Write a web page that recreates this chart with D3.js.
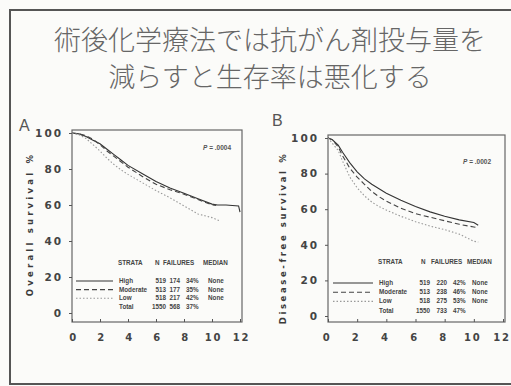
<!DOCTYPE html>
<html>
<head>
<meta charset="utf-8">
<script src="https://cdn.jsdelivr.net/npm/d3@7"></script>
<style>
	body { margin: 0; background: #fbfbf9; }
	svg { display: block; }
	.tick text { font-family: 'DejaVu Sans', sans-serif; font-weight: bold; fill: #444; }
	.tick line { stroke: #555; }
</style>
</head>
<body>
<svg id="main_svg"></svg>
<script>
const WIDTH = 511;
const HEIGHT = 386;

// title lines
const titleLines = ['術後化学療法では抗がん剤投与量を', '減らすと生存率は悪化する'];

const xTicks = [0, 2, 4, 6, 8, 10, 12];
const yTicks = [0, 20, 40, 60, 80, 100];

const strata = ['High', 'Moderate', 'Low', 'Total'];
const legendHeader = ['STRATA', 'N', 'FAILURES', 'MEDIAN'];

// panel A: overall survival
const nA = ['519', '513', '518', '1550'];
const failA = ['174', '177', '217', '568'];
const pctA = ['34%', '35%', '42%', '37%'];
const medA = ['None', 'None', 'None', ''];
const highA = [[0, 100], [0.5, 99.5], [1, 98], [1.5, 96], [2, 94], [2.5, 91], [3, 88], [3.5, 85], [4, 82], [5, 77.5], [6, 73], [7, 69.5], [8, 66.5], [9, 63.5], [10, 60.5], [10.4, 60], [11, 60], [11.9, 59.5], [12, 56]];
const modA = [[0, 100], [0.5, 99.5], [1, 98.5], [1.5, 96.5], [2, 93.5], [2.5, 90], [3, 87], [3.5, 84], [4, 81], [5, 76], [6, 71.5], [7, 68.5], [8, 66], [9, 63], [10, 60], [10.3, 59.8]];
const lowA = [[0, 100], [0.5, 99], [1, 97], [1.5, 93.5], [2, 90], [2.5, 86], [3, 82.5], [3.5, 79.5], [4, 77], [5, 72.5], [6, 68], [7, 64], [8, 59.5], [9, 55], [9.5, 54], [10, 53], [10.6, 51]];

// panel B: disease-free survival
const nB = ['519', '513', '518', '1550'];
const failB = ['220', '238', '275', '733'];
const pctB = ['42%', '46%', '53%', '47%'];
const medB = ['None', 'None', 'None', ''];
const highB = [[0, 100], [0.3, 99], [0.7, 96], [1, 92], [1.5, 86], [2, 81], [2.5, 77], [3, 74], [3.5, 71.5], [4, 69], [5, 65], [6, 61.5], [7, 58.5], [8, 56], [9, 54], [10, 52.5], [10.3, 51]];
const modB = [[0, 100], [0.3, 99], [0.7, 95], [1, 90], [1.5, 83], [2, 78], [2.5, 74], [3, 70], [3.5, 67], [4, 64.5], [5, 60.5], [6, 57.5], [7, 55.5], [8, 53.5], [9, 51.5], [10, 50], [10.3, 49.5]];
const lowB = [[0, 100], [0.3, 97], [0.7, 93], [1, 87], [1.5, 78], [2, 72], [2.5, 67.5], [3, 64], [3.5, 61.5], [4, 59.5], [5, 56], [6, 53], [7, 50.5], [8, 48.5], [9, 46], [10, 42], [10.3, 41.5]];

const LINE_STYLES = [
	{stroke: '#333', dash: null, width: 1.1},
	{stroke: '#444', dash: '5,3', width: 1.1},
	{stroke: '#999', dash: '1.5,2', width: 1.1}
];

const svg = d3.select('#main_svg').attr('width', WIDTH).attr('height', HEIGHT);

// slide frame
svg.append('rect')
	.attr('x', 10).attr('y', 10)
	.attr('width', 530).attr('height', 374)
	.attr('fill', 'none')
	.attr('stroke', '#555')
	.attr('stroke-width', 2);

svg.selectAll('.title')
	.data(titleLines)
	.enter()
	.append('text')
	.attr('class', 'title')
	.attr('x', 270)
	.attr('y', (d, i) => 50 + i * 37)
	.attr('text-anchor', 'middle')
	.attr('font-family', "'Noto Sans CJK JP', sans-serif")
	.attr('font-weight', 300)
	.attr('font-size', '27px')
	.attr('fill', '#666')
	.text(d => d);

const plot_panel = (cfg) => {
	const g = svg.append('g');

	const x = d3.scaleLinear().domain([0, 12]).range([cfg.left, cfg.right]);
	const y = d3.scaleLinear().domain([0, 100]).range([cfg.y0, cfg.y100]);

	// plot box
	g.append('rect')
		.attr('x', cfg.left).attr('y', cfg.boxTop)
		.attr('width', cfg.boxRight - cfg.left)
		.attr('height', cfg.boxBottom - cfg.boxTop)
		.attr('fill', 'none')
		.attr('stroke', '#666')
		.attr('stroke-width', 1.2);

	const yAxis = g.append('g')
		.attr('transform', `translate(${cfg.left},0)`)
		.call(d3.axisLeft(y).tickValues(yTicks).tickSize(3).tickPadding(6));
	yAxis.select('.domain').remove();
	yAxis.selectAll('.tick text')
		.attr('font-size', '10.5px')
		.attr('letter-spacing', '2px');

	const xAxis = g.append('g')
		.attr('transform', `translate(0,${cfg.boxBottom})`)
		.call(d3.axisBottom(x).tickValues(xTicks).tickSize(-3).tickPadding(12));
	xAxis.select('.domain').remove();
	xAxis.selectAll('.tick text')
		.attr('font-size', '10px')
		.attr('letter-spacing', '1.8px')
		.attr('dx', cfg.xLabelDx);

	const line = d3.line()
		.x(d => x(d[0]))
		.y(d => y(d[1]));

	g.selectAll('.curve')
		.data(cfg.curves)
		.enter()
		.append('path')
		.attr('class', 'curve')
		.attr('d', line)
		.attr('fill', 'none')
		.attr('stroke', (d, i) => LINE_STYLES[i].stroke)
		.attr('stroke-width', (d, i) => LINE_STYLES[i].width)
		.attr('stroke-dasharray', (d, i) => LINE_STYLES[i].dash);

	// panel letter
	g.append('text')
		.attr('x', cfg.letterX).attr('y', cfg.letterY)
		.attr('font-family', "'Liberation Sans', sans-serif")
		.attr('font-size', '16px')
		.attr('fill', '#555')
		.text(cfg.letter);

	// rotated y label
	g.append('text')
		.attr('transform', `translate(${cfg.labelX}, ${cfg.labelY}) rotate(-90)`)
		.attr('text-anchor', 'middle')
		.attr('font-family', "'DejaVu Sans', sans-serif")
		.attr('font-weight', 'bold')
		.attr('font-size', '8.5px')
		.attr('letter-spacing', cfg.labelSpacing)
		.attr('fill', '#3a3a3a')
		.text(cfg.label);

	// p value
	const p = g.append('text')
		.attr('x', cfg.pX).attr('y', cfg.pY)
		.attr('font-family', "'Liberation Sans', sans-serif")
		.attr('font-weight', 'bold')
		.attr('font-size', '6.5px')
		.attr('fill', '#555');
	p.append('tspan').attr('font-style', 'italic').text('P');
	p.append('tspan').text(' = ' + cfg.p);

	// legend
	const lg = g.append('g')
		.attr('font-family', "'Liberation Sans', sans-serif")
		.attr('font-weight', 'bold')
		.attr('font-size', '6.3px')
		.attr('fill', '#444');

	lg.selectAll('.hdr')
		.data(legendHeader)
		.enter()
		.append('text')
		.attr('x', (d, i) => cfg.hdrX[i])
		.attr('y', cfg.hdrY)
		.text(d => d);

	lg.selectAll('.sample')
		.data(strata.slice(0, 3))
		.enter()
		.append('line')
		.attr('x1', cfg.sampleX[0]).attr('x2', cfg.sampleX[1])
		.attr('y1', (d, i) => cfg.rowY + i * cfg.rowStep - 2)
		.attr('y2', (d, i) => cfg.rowY + i * cfg.rowStep - 2)
		.attr('stroke', (d, i) => LINE_STYLES[i].stroke)
		.attr('stroke-width', (d, i) => LINE_STYLES[i].width)
		.attr('stroke-dasharray', (d, i) => LINE_STYLES[i].dash);

	const cols = [
		{vals: strata, anchor: 'start'},
		{vals: cfg.n, anchor: 'end'},
		{vals: cfg.fail, anchor: 'end'},
		{vals: cfg.pct, anchor: 'start'},
		{vals: cfg.med, anchor: 'start'}
	];
	cols.forEach((col, ci) => {
		lg.selectAll(`.col${ci}`)
			.data(col.vals)
			.enter()
			.append('text')
			.attr('x', cfg.colX[ci])
			.attr('y', (d, i) => cfg.rowY + i * cfg.rowStep)
			.attr('text-anchor', col.anchor)
			.text(d => d);
	});
};

plot_panel({
	letter: 'A', letterX: 19, letterY: 131,
	left: 72, right: 240, y0: 313, y100: 133,
	boxTop: 130, boxBottom: 322, boxRight: 242,
	xLabelDx: 1,
	curves: [highA, modA, lowA],
	label: 'Overall survival %', labelX: 33, labelY: 224, labelSpacing: '3.2px',
	p: '.0004', pX: 203, pY: 150,
	hdrX: [118, 155, 163, 203], hdrY: 265,
	sampleX: [76, 113],
	rowY: 283, rowStep: 8.6,
	colX: [119, 166, 180, 186, 208],
	n: nA, fail: failA, pct: pctA, med: medA
});

plot_panel({
	letter: 'B', letterX: 272, letterY: 126,
	left: 328, right: 503, y0: 316, y100: 138,
	boxTop: 135, boxBottom: 322, boxRight: 505,
	xLabelDx: -1.5,
	curves: [highB, modB, lowB],
	label: 'Disease-free survival %', labelX: 286, labelY: 238, labelSpacing: '2.6px',
	p: '.0002', pX: 463, pY: 164,
	hdrX: [378, 421, 431, 467], hdrY: 264,
	sampleX: [333, 373],
	rowY: 285, rowStep: 9.2,
	colX: [379, 430, 447, 453, 472],
	n: nB, fail: failB, pct: pctB, med: medB
});
</script>
</body>
</html>
